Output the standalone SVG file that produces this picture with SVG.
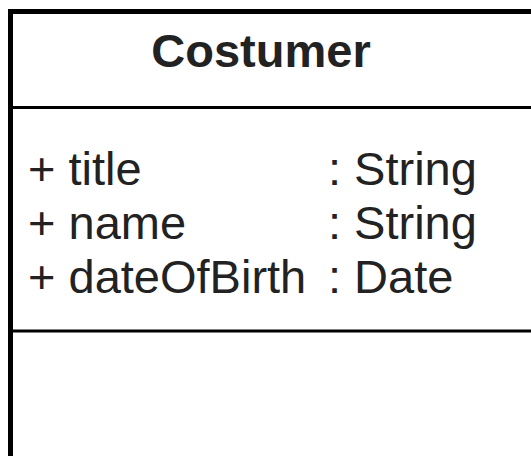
<svg xmlns="http://www.w3.org/2000/svg" width="531" height="456" viewBox="0 0 531 456">
<style>
.t{font-family:"Liberation Sans",Arial,sans-serif;fill:#222;font-size:47px}
.b{font-weight:bold;text-anchor:middle}
.ln{stroke:#000;stroke-width:3}
</style>
<rect width="531" height="456" fill="#fff"/>
<g id="costumer">
<rect x="10.5" y="11.5" width="600" height="500" fill="#fff" stroke="#000" stroke-width="5"/>
<line class="ln" x1="10" y1="107.5" x2="620" y2="107.5"/>
<line class="ln" x1="10" y1="331" x2="620" y2="331"/>
<text class="t b" x="261" y="67">Costumer</text>
<text class="t" x="28" y="185">+ title</text>
<text class="t" x="328" y="185">: String</text>
<text class="t" x="28" y="239">+ name</text>
<text class="t" x="328" y="239">: String</text>
<text class="t" x="28" y="293">+ dateOfBirth</text>
<text class="t" x="328" y="293">: Date</text>
</g>
</svg>
